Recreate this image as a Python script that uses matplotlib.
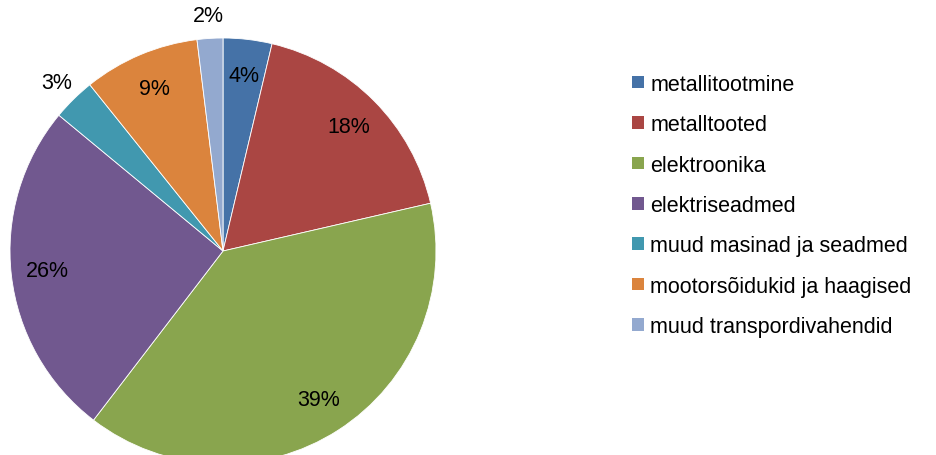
import matplotlib
matplotlib.use('Agg')
import matplotlib.pyplot as plt
from matplotlib.patches import Patch
import numpy as np

plt.rcParams['font.family'] = ['Liberation Sans', 'DejaVu Sans']

categories = [
    'metallitootmine',
    'metalltooted',
    'elektroonika',
    'elektriseadmed',
    'muud masinad ja seadmed',
    'mootorsõidukid ja haagised',
    'muud transpordivahendid',
]
shares = [3.7, 17.7, 39.0, 25.6, 3.25, 8.8, 1.95]
colors = ['#4572A7', '#AA4643', '#89A54E', '#71588F', '#4198AF', '#DB843D', '#93A9CF']

W, H = 936, 456
fig = plt.figure(figsize=(W / 100, H / 100), dpi=100)

# pie box in pixels: centre (223, 252), radius 213
cx, cy, r = 223, 252, 213
ax = fig.add_axes([(cx - r) / W, (H - cy - r) / H, 2 * r / W, 2 * r / H])
wedges, _ = ax.pie(shares, colors=colors, startangle=90, counterclock=False,
                   radius=1.0, wedgeprops=dict(linewidth=0.6, edgecolor='white'))
ax.set_xlim(-1, 1)
ax.set_ylim(-1, 1)
ax.set_axis_off()

# percentage labels: inside for big slices, just outside for the thin ones
total = sum(shares)
start = 0.0
for val in shares:
    mid = (start + val / 2) / total * 2 * np.pi
    start += val
    dist = 1.11 if val < 3.5 else 0.83
    x = dist * np.sin(mid)
    y = dist * np.cos(mid)
    ax.text(x, y, f'{val / total * 100:.0f}%', ha='center', va='center',
            fontsize=15.5, color='black', clip_on=False)

handles = [Patch(facecolor=c, edgecolor='none') for c in colors]
fig.legend(handles, categories, loc='upper left',
           bbox_to_anchor=(621 / W, 1 - 64 / H), frameon=False,
           fontsize=15.5, handlelength=0.55, handleheight=0.52,
           handletextpad=0.3, labelspacing=0.9, borderpad=0)

fig.savefig('out.png', dpi=100)
